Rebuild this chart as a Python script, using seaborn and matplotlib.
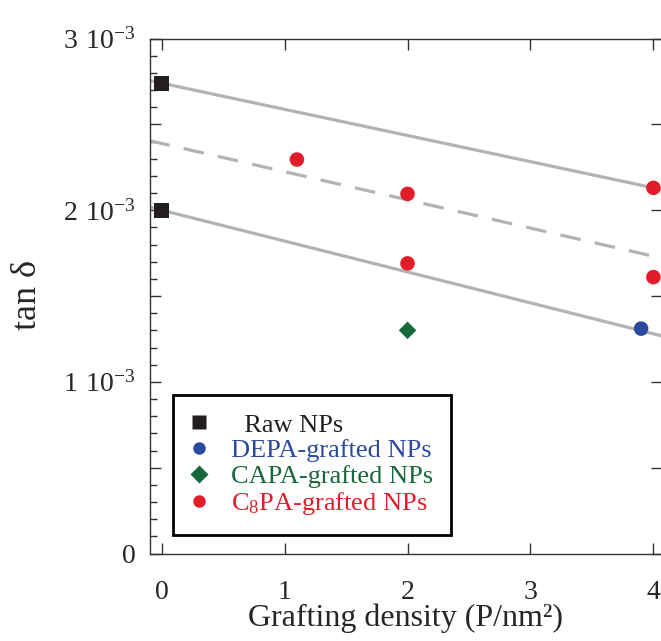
import seaborn as sns
import pandas as pd
import matplotlib
matplotlib.use('Agg')
import matplotlib.pyplot as plt
from matplotlib.ticker import FixedLocator, FixedFormatter, MultipleLocator
from matplotlib.lines import Line2D

# data
raw_x = [0, 0]
raw_y = [2.74e-3, 2.00e-3]
depa_x = [3.9]
depa_y = [1.31e-3]
capa_x = [2.0]
capa_y = [1.30e-3]
c8pa_x = [1.1, 2.0, 2.0, 4.0, 4.0]
c8pa_y = [2.295e-3, 2.095e-3, 1.69e-3, 2.13e-3, 1.61e-3]

# trend lines (end points)
fit_x = [-0.1, 4.1]
upper_fit = [2.755e-3, 2.115e-3]
dashed_fit = [2.405e-3, 1.715e-3]
lower_fit = [2.018e-3, 1.262e-3]

y_ticks = [0, 1e-3, 2e-3, 3e-3]
y_tick_labels = ['0', r'$\mathregular{1\ 10^{-3}}$', r'$\mathregular{2\ 10^{-3}}$', r'$\mathregular{3\ 10^{-3}}$']
x_ticks = [0, 1, 2, 3, 4]

labels = ['  Raw NPs', 'DEPA-grafted NPs', 'CAPA-grafted NPs', r'C$\mathregular{_8}$PA-grafted NPs']
colors = ['#231f20', '#2a4aa0', '#17683a', '#e21d2a']
markers = ['s', 'o', 'D', 'o']

sns.set_theme(style='ticks')
plt.rcParams['font.family'] = ['Liberation Serif', 'DejaVu Serif']
plt.rcParams['mathtext.fontset'] = 'custom'
plt.rcParams['mathtext.rm'] = 'Liberation Serif'

df = pd.DataFrame({
    'x': raw_x + depa_x + capa_x + c8pa_x,
    'y': raw_y + depa_y + capa_y + c8pa_y,
    'group': [labels[0]] * len(raw_x) + [labels[1]] * len(depa_x)
             + [labels[2]] * len(capa_x) + [labels[3]] * len(c8pa_x),
})

fig = plt.figure(figsize=(6.61, 6.41), dpi=100)
ax = fig.add_axes([150 / 661, (641 - 553.5) / 641, 512 / 661, 515 / 641])

gray = '#b3b3b3'
sns.lineplot(x=fit_x, y=upper_fit, ax=ax, color=gray, lw=2.3, zorder=1)
sns.lineplot(x=fit_x, y=lower_fit, ax=ax, color=gray, lw=2.3, zorder=1)
ax.plot(fit_x, dashed_fit, color=gray, lw=2.3, dashes=(6.5, 4.5), zorder=1)

for lab, col, mk in zip(labels, colors, markers):
    sub = df[df['group'] == lab]
    size = 120 if mk == 's' else (80 if mk == 'D' else 110)
    sns.scatterplot(data=sub, x='x', y='y', ax=ax, color=col, marker=mk,
                    s=size, edgecolor='none', zorder=3, legend=False)

ax.set_xlim(-0.095, 4.07)
ax.set_ylim(0, 3e-3)

ax.xaxis.set_major_locator(FixedLocator(x_ticks))
ax.set_xticklabels([str(t) for t in x_ticks])
ax.yaxis.set_major_locator(FixedLocator([0, 0.5e-3, 1e-3, 1.5e-3, 2e-3, 2.5e-3, 3e-3]))
ax.yaxis.set_major_formatter(FixedFormatter(['0', '', y_tick_labels[1], '', y_tick_labels[2], '', y_tick_labels[3]]))
ax.yaxis.set_minor_locator(MultipleLocator(1e-4))

ax.tick_params(axis='both', which='major', direction='in', length=8, width=1,
               color='#333333', labelsize=20, top=True, right=True)
ax.tick_params(axis='y', which='minor', direction='in', length=5, width=1,
               color='#333333', right=False)
ax.tick_params(axis='y', which='major', pad=10)
ax.tick_params(axis='x', which='major', pad=19)
for s in ax.spines.values():
    s.set_color('#333333')
    s.set_linewidth(1)

ax.set_xlabel('Grafting density (P/nm²)', fontsize=23, labelpad=-1)
ax.set_ylabel(r'tan $\mathregular{\delta}$', fontsize=26, labelpad=14)

handles = [Line2D([0], [0], marker=mk, color='none', markerfacecolor=col,
                  markeredgecolor='none', markersize=(10 if mk == 's' else 9))
           for col, mk in zip(colors, markers)]
leg = ax.legend(handles, labels, loc='lower left', bbox_to_anchor=(0.044, 0.035),
                borderaxespad=0, fancybox=False, edgecolor='black', framealpha=1,
                fontsize=19, handletextpad=0.9, labelspacing=0.08, borderpad=0.7,
                handlelength=0.6)
leg.get_frame().set_linewidth(2)
for txt, col in zip(leg.get_texts(), colors):
    txt.set_color(col)

fig.savefig('out.png', dpi=100)
